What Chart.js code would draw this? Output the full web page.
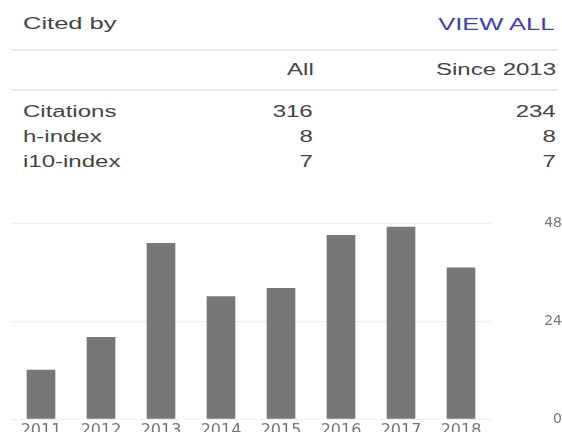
<!DOCTYPE html>
<html>
<head>
<meta charset="utf-8">
<script src="https://cdn.jsdelivr.net/npm/chart.js@4"></script>
<style>
  body {
    margin: 0;
    width: 562px;
    height: 432px;
    overflow: hidden;
    background: #fff;
    position: relative;
    font-family: "Liberation Sans", Arial, sans-serif;
    color: #444;
  }
  .t { position: absolute; white-space: nowrap; font-size: 16px; line-height: 16px; }
  .l { transform-origin: left top; transform: scaleX(1.5); }
  .r { transform-origin: right top; transform: scaleX(1.5); }
  .big { font-size: 17px; line-height: 17px; }
  .rule { position: absolute; left: 11px; width: 547px; height: 2px; background: #ebebeb; }
  #citeChart { position: absolute; left: 0; top: 200px; }
</style>
</head>
<body>
<div class="t big l" style="left:23px; top:15px;">Cited by</div>
<div class="t big r" style="right:8px; top:16px; color:#3a3acc;">VIEW ALL</div>
<div class="rule" style="top:49px;"></div>
<div class="rule" style="top:89px;"></div>
<div id="table"></div>
<canvas id="citeChart" width="562" height="232"></canvas>

<script>
// stats table
const columnHeads = ["All", "Since 2013"];
const rowLabels = ["Citations", "h-index", "i10-index"];
const allValues = [316, 8, 7];
const sinceValues = [234, 8, 7];

// citations per year
const years = ["2011", "2012", "2013", "2014", "2015", "2016", "2017", "2018"];
const citations = [12, 20, 43, 30, 32, 45, 47, 37];
const yTicks = [0, 24, 48];

function buildTable() {
    let html = "";
    html += `<div class="t r" style="right:248px; top:62px;">${columnHeads[0]}</div>`;
    html += `<div class="t r" style="right:6px; top:62px;">${columnHeads[1]}</div>`;
    rowLabels.forEach((label, i) => {
        const top = 104 + i * 25;
        html += `<div class="t l" style="left:23px; top:${top}px;">${label}</div>`;
        html += `<div class="t r" style="right:249px; top:${top}px;">${allValues[i]}</div>`;
        html += `<div class="t r" style="right:6px; top:${top}px;">${sinceValues[i]}</div>`;
    });
    document.getElementById("table").innerHTML = html;
}

buildTable();

const ctx = document.getElementById("citeChart").getContext("2d");
new Chart(ctx, {
    type: "bar",
    data: {
        labels: years,
        datasets: [{
            data: citations,
            backgroundColor: "#777777",
            barThickness: 28
        }]
    },
    options: {
        responsive: false,
        animation: false,
        layout: { padding: { left: 11, right: 0, top: 23, bottom: 0 } },
        plugins: {
            legend: { display: false },
            tooltip: { enabled: false }
        },
        scales: {
            x: {
                grid: { display: false },
                border: { display: false },
                ticks: {
                    color: "#777",
                    font: { family: "DejaVu Sans", size: 16 },
                    padding: -6,
                    maxRotation: 0,
                    autoSkip: false
                },
                afterFit(scale) { scale.height = 13; }
            },
            y: {
                position: "right",
                min: 0,
                max: 48,
                afterBuildTicks(scale) {
                    scale.ticks = yTicks.map(v => ({ value: v }));
                },
                // long invisible tick marks push the labels out to the right edge
                grid: { color: "#eeeeee", drawTicks: true, tickLength: 47, tickColor: "rgba(0,0,0,0)" },
                border: { display: false },
                ticks: {
                    color: "#777",
                    font: { family: "DejaVu Sans", size: 14 },
                    crossAlign: "far",
                    padding: 0
                },
                afterFit(scale) { scale.width = 71; }
            }
        }
    }
});
</script>
</body>
</html>
